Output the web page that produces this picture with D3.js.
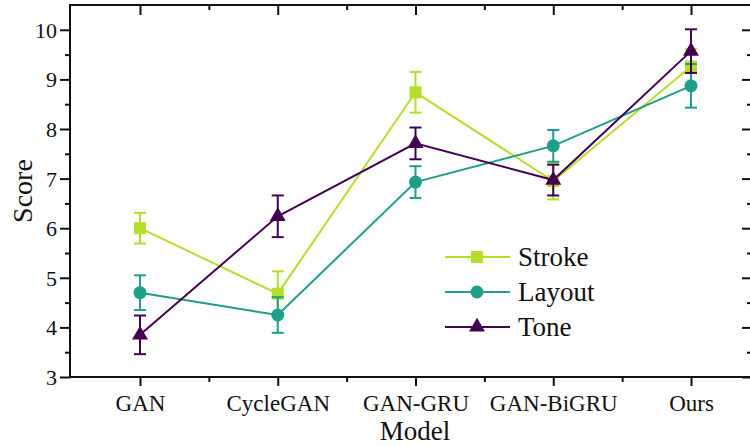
<!DOCTYPE html>
<html><head><meta charset="utf-8">
<script src="https://cdn.jsdelivr.net/npm/d3@7"></script>
<style>body{margin:0;background:#fff}svg{display:block}text{font-family:"Liberation Serif","Times New Roman",serif;fill:#111}</style>
</head><body><svg id="c" width="750" height="446"></svg>
<script>
const categories = ["GAN","CycleGAN","GAN-GRU","GAN-BiGRU","Ours"];
const strokeVals = [6.0, 4.68, 8.74, 6.95, 9.26];
const strokeErr  = [0.31, 0.45, 0.41, 0.37, 0.35];
const layoutVals = [4.70, 4.25, 6.93, 7.66, 8.87];
const layoutErr  = [0.35, 0.36, 0.32, 0.32, 0.44];
const toneVals   = [3.85, 6.24, 7.71, 6.97, 9.57];
const toneErr    = [0.39, 0.42, 0.32, 0.31, 0.44];
const yTicks = [3,4,5,6,7,8,9,10];
const seriesNames = ["Stroke","Layout","Tone"];
const colors = ["#b5de2b","#1f9e89","#440154"];
const shapes = ["square","circle","triangle"];

const series = seriesNames.map((n,i)=>({name:n,color:colors[i],shape:shapes[i],
  vals:[strokeVals,layoutVals,toneVals][i], errs:[strokeErr,layoutErr,toneErr][i]}));

const svg = d3.select("#c");
const L=70, R=752, T=5, B=377;
const x = d3.scalePoint().domain(categories).range([140,691]);
const y = d3.scaleLinear().domain([3,10.5]).range([B,T]);
const step = x.step();
const minorX = categories.slice(0,-1).map(c=>x(c)+step/2);
const minorY = yTicks.map(v=>v+0.5).filter(v=>v<10.5);

const g = svg.append("g");
g.append("rect").attr("x",L).attr("y",T).attr("width",R-L).attr("height",B-T)
 .attr("fill","none").attr("stroke","#111").attr("stroke-width",2);

function clean(sel){ sel.select(".domain").remove(); sel.selectAll("line").attr("stroke","#111").attr("stroke-width",2); return sel; }

const ya = clean(g.append("g").attr("transform",`translate(${L},0)`)
  .call(d3.axisLeft(y).tickValues(yTicks).tickSize(10).tickPadding(3).tickFormat(d3.format("d"))));
ya.selectAll("text").style("font-size","22px").attr("dy","0.34em");
clean(g.append("g").attr("transform",`translate(${L},0)`).call(d3.axisLeft(y).tickValues(minorY).tickSize(5).tickFormat("")));
clean(g.append("g").attr("transform",`translate(${R},0)`).call(d3.axisRight(y).tickValues(yTicks).tickSize(-10).tickFormat("")));
clean(g.append("g").attr("transform",`translate(${R},0)`).call(d3.axisRight(y).tickValues(minorY).tickSize(-5).tickFormat("")));

const xa = clean(g.append("g").attr("transform",`translate(0,${B})`).call(d3.axisBottom(x).tickSize(9).tickPadding(9)));
xa.selectAll("text").style("font-size","23px");
const xm = d3.scaleLinear().domain([0,1]).range([0,1]);
clean(g.append("g").attr("transform",`translate(0,${B})`).call(d3.axisBottom(xm).tickValues(minorX).tickSize(5).tickFormat("")));
clean(g.append("g").attr("transform",`translate(0,${T})`).call(d3.axisTop(x).tickSize(-10).tickFormat("")));
clean(g.append("g").attr("transform",`translate(0,${T})`).call(d3.axisTop(xm).tickValues(minorX).tickSize(-5).tickFormat("")));

svg.append("text").attr("transform","translate(32,191) rotate(-90)").attr("text-anchor","middle")
  .style("font-size","28px").text("Score");
svg.append("text").attr("x",415).attr("y",440).attr("text-anchor","middle")
  .style("font-size","27px").text("Model");

function marker(sel, shape, color){
  if(shape==="square") sel.append("rect").attr("x",-6).attr("y",-6).attr("width",12).attr("height",12).attr("fill",color);
  else if(shape==="circle") sel.append("circle").attr("r",6.5).attr("fill",color);
  else sel.append("path").attr("d",d3.symbol(d3.symbolTriangle,110)()).attr("fill",color);
}

const line = d3.line().x((d,i)=>x(categories[i])).y(d=>y(d));
series.forEach(s=>{
  const sg = svg.append("g");
  sg.append("path").attr("d",line(s.vals)).attr("fill","none").attr("stroke",s.color).attr("stroke-width",2);
  s.vals.forEach((v,i)=>{
    const cx=x(categories[i]);
    const eg = sg.append("g").attr("stroke",s.color).attr("stroke-width",2);
    eg.append("line").attr("x1",cx).attr("x2",cx).attr("y1",y(v+s.errs[i])).attr("y2",y(v-s.errs[i]));
    [v+s.errs[i], v-s.errs[i]].forEach(e=>eg.append("line").attr("x1",cx-6).attr("x2",cx+6).attr("y1",y(e)).attr("y2",y(e)));
    marker(sg.append("g").attr("transform",`translate(${cx},${y(v)})`), s.shape, s.color);
  });
});

const lg = svg.append("g");
series.forEach((s,i)=>{
  const yy = 257 + i*35;
  lg.append("line").attr("x1",445).attr("x2",510).attr("y1",yy).attr("y2",yy).attr("stroke",s.color).attr("stroke-width",2);
  marker(lg.append("g").attr("transform",`translate(477,${yy})`), s.shape, s.color);
  lg.append("text").attr("x",518).attr("y",yy).attr("dy","0.35em").style("font-size","27px").text(s.name);
});
</script></body></html>
